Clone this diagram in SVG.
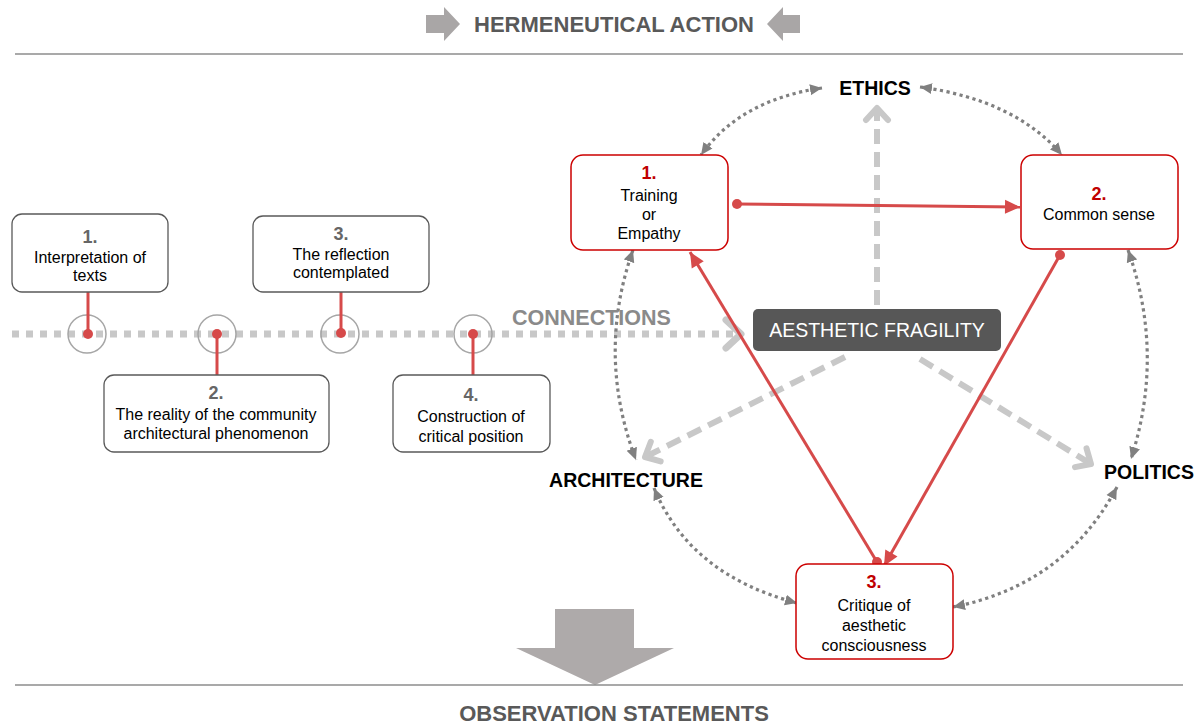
<svg xmlns="http://www.w3.org/2000/svg" width="1199" height="724" viewBox="0 0 1199 724">
<style>
text{font-family:"Liberation Sans",Arial,sans-serif;}
.hdr{font-size:22px;font-weight:bold;fill:#595959;text-anchor:middle;}
.lbox{fill:#fff;stroke:#595959;stroke-width:1.3;}
.rbox{fill:#fff;stroke:#cc0000;stroke-width:1.5;}
.t{font-size:16px;fill:#000;text-anchor:middle;}
.n{font-size:18px;font-weight:bold;fill:#666;text-anchor:middle;}
.rn{font-size:18px;font-weight:bold;fill:#c00000;text-anchor:middle;}
.lab{font-size:19.5px;font-weight:bold;fill:#000;text-anchor:middle;}
.dot{fill:none;stroke:#808080;stroke-width:3.2;stroke-dasharray:3.2 3.5;}
.dash{fill:none;stroke:#c8c8c8;stroke-width:6;stroke-dasharray:15 8;}
.red{fill:none;stroke:#d64a4a;stroke-width:3;}
.ring{fill:none;stroke:#a6a6a6;stroke-width:1.5;}
</style>
<defs>
<marker id="tri" markerUnits="userSpaceOnUse" viewBox="-12 -6 12 12" refX="0" refY="0" markerWidth="12" markerHeight="12" orient="auto-start-reverse">
<path d="M-12,-5.5 L0,0 L-12,5.5 Z" fill="#808080"/>
</marker>
<marker id="chev" markerUnits="userSpaceOnUse" viewBox="-20 -16 24 32" refX="0" refY="0" markerWidth="24" markerHeight="32" orient="auto">
<path d="M-12,-11 L0,0 L-12,11" fill="none" stroke="#c8c8c8" stroke-width="6" stroke-linecap="round" stroke-linejoin="round"/>
</marker>
<marker id="chevB" markerUnits="userSpaceOnUse" viewBox="-24 -20 28 40" refX="0" refY="0" markerWidth="28" markerHeight="40" orient="auto">
<path d="M-15,-14 L0,0 L-15,14" fill="none" stroke="#c8c8c8" stroke-width="7" stroke-linecap="round" stroke-linejoin="round"/>
</marker>
<marker id="rarr" markerUnits="userSpaceOnUse" viewBox="-16 -8 16 16" refX="0" refY="0" markerWidth="16" markerHeight="16" orient="auto">
<path d="M-15,-7 L0,0 L-15,7 Z" fill="#d64a4a"/>
</marker>
<marker id="rdot" markerUnits="userSpaceOnUse" viewBox="-6 -6 12 12" refX="0" refY="0" markerWidth="12" markerHeight="12">
<circle r="5" fill="#d64a4a"/>
</marker>
</defs>
<rect width="1199" height="724" fill="#fff"/>

<g id="header">
<path d="M426,15 H444 V7 L460,24 L444,41 V33 H426 Z" fill="#a9a6a6"/>
<path d="M800,15 H783 V7 L767,24 L783,41 V33 H800 Z" fill="#a9a6a6"/>
<text class="hdr" x="614" y="32">HERMENEUTICAL ACTION</text>
<line x1="15" y1="54" x2="1183" y2="54" stroke="#8c8c8c" stroke-width="1.5"/>
</g>

<g id="footer">
<path d="M555,609 H634 V648 H674 L595,685 L516,648 H555 Z" fill="#aeaaaa"/>
<line x1="15" y1="685" x2="1183" y2="685" stroke="#8c8c8c" stroke-width="1.5"/>
<text class="hdr" x="614" y="721">OBSERVATION STATEMENTS</text>
</g>

<g id="connectors">
<line x1="12" y1="334" x2="741" y2="334" stroke="#c8c8c8" stroke-width="7" stroke-dasharray="7 7" marker-end="url(#chevB)"/>
<circle class="ring" cx="87" cy="334" r="19"/>
<circle class="ring" cx="217" cy="334" r="19"/>
<circle class="ring" cx="340" cy="334" r="19"/>
<circle class="ring" cx="473" cy="334" r="19"/>
<line x1="88" y1="292" x2="88" y2="334" stroke="#d64a4a" stroke-width="3"/>
<circle cx="88" cy="334" r="5" fill="#d64a4a"/>
<line x1="217" y1="334" x2="217" y2="375" stroke="#d64a4a" stroke-width="3"/>
<circle cx="217" cy="334" r="5" fill="#d64a4a"/>
<line x1="341" y1="292" x2="341" y2="333" stroke="#d64a4a" stroke-width="3"/>
<circle cx="341" cy="333" r="5" fill="#d64a4a"/>
<line x1="473" y1="334" x2="473" y2="375" stroke="#d64a4a" stroke-width="3"/>
<circle cx="473" cy="334" r="5" fill="#d64a4a"/>

<line class="dash" x1="877" y1="305" x2="877" y2="108" marker-end="url(#chev)"/>
<line class="dash" x1="845" y1="357" x2="645" y2="457" marker-end="url(#chev)"/>
<line class="dash" x1="920" y1="359" x2="1091" y2="464" marker-end="url(#chev)"/>

<path class="dot" d="M822,88 Q740,100 701,155" marker-start="url(#tri)" marker-end="url(#tri)"/>
<path class="dot" d="M920,87 Q1015,100 1062,155" marker-start="url(#tri)" marker-end="url(#tri)"/>
<path class="dot" d="M633,250 Q596,355 636,460" marker-start="url(#tri)" marker-end="url(#tri)"/>
<path class="dot" d="M1128,250 Q1165,354 1131,459" marker-start="url(#tri)" marker-end="url(#tri)"/>
<path class="dot" d="M654,488 Q690,575 797,603" marker-start="url(#tri)" marker-end="url(#tri)"/>
<path class="dot" d="M1117,487 Q1065,585 953,607" marker-start="url(#tri)" marker-end="url(#tri)"/>

<line class="red" x1="737" y1="204" x2="1020" y2="207" marker-start="url(#rdot)" marker-end="url(#rarr)"/>
<line class="red" x1="1060" y1="255" x2="884" y2="566" marker-start="url(#rdot)" marker-end="url(#rarr)"/>
<line class="red" x1="877" y1="562" x2="690" y2="252" marker-start="url(#rdot)" marker-end="url(#rarr)"/>
<text x="512" y="325" font-size="21.5" font-weight="bold" fill="#8a8a8a">CONNECTIONS</text>
</g>

<g id="left1">
<rect class="lbox" x="12" y="214" width="156" height="78" rx="10"/>
<text class="n" x="90" y="243">1.</text>
<text class="t" x="90" y="263">Interpretation of</text>
<text class="t" x="90" y="281">texts</text>
</g>
<g id="left2">
<rect class="lbox" x="104" y="375" width="225" height="77" rx="10"/>
<text class="n" x="216" y="399">2.</text>
<text class="t" x="216" y="420">The reality of the community</text>
<text class="t" x="216" y="439">architectural phenomenon</text>
</g>
<g id="left3">
<rect class="lbox" x="253" y="216" width="176" height="76" rx="10"/>
<text class="n" x="341" y="240">3.</text>
<text class="t" x="341" y="260">The reflection</text>
<text class="t" x="341" y="278">contemplated</text>
</g>
<g id="left4">
<rect class="lbox" x="393" y="375" width="157" height="77" rx="10"/>
<text class="n" x="471" y="401">4.</text>
<text class="t" x="471" y="422">Construction of</text>
<text class="t" x="471" y="442">critical position</text>
</g>

<g id="fragility">
<rect x="753" y="309" width="248" height="42" rx="5" fill="#575757"/>
<text x="877" y="337" font-size="19.5" fill="#fff" text-anchor="middle">AESTHETIC FRAGILITY</text>
</g>

<g id="r1">
<rect class="rbox" x="571" y="155" width="157" height="95" rx="12"/>
<text class="rn" x="649" y="179">1.</text>
<text class="t" x="649" y="201">Training</text>
<text class="t" x="649" y="220">or</text>
<text class="t" x="649" y="239">Empathy</text>
</g>
<g id="r2">
<rect class="rbox" x="1021" y="155" width="157" height="94" rx="12"/>
<text class="rn" x="1099" y="200">2.</text>
<text class="t" x="1099" y="220">Common sense</text>
</g>
<g id="r3">
<rect class="rbox" x="796" y="564" width="157" height="95" rx="12"/>
<text class="rn" x="874" y="588">3.</text>
<text class="t" x="874" y="611">Critique of</text>
<text class="t" x="874" y="631">aesthetic</text>
<text class="t" x="874" y="651">consciousness</text>
</g>

<g id="ethics"><text class="lab" x="875" y="95">ETHICS</text></g>
<g id="architecture"><text class="lab" x="626" y="487">ARCHITECTURE</text></g>
<g id="politics"><text class="lab" x="1149" y="479">POLITICS</text></g>
</svg>
